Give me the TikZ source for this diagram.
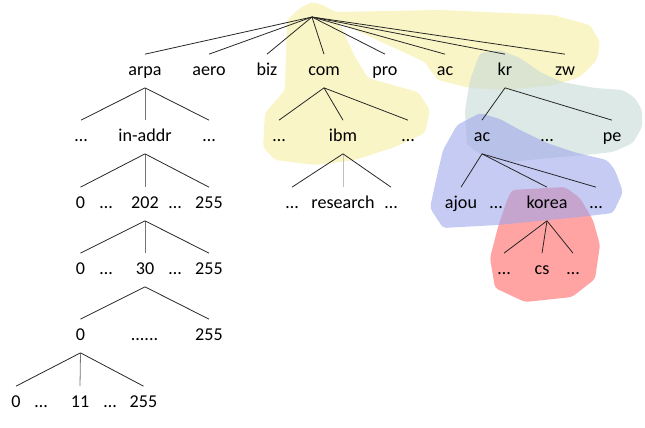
\documentclass[tikz,border=0pt]{standalone}
\usepackage{fontspec}
\setmainfont{Carlito}
\definecolor{blobY}{RGB}{250,245,198}
\definecolor{blobG}{RGB}{198,218,215}
\definecolor{blobR}{RGB}{255,71,71}
\definecolor{blobB}{RGB}{160,168,235}
\begin{document}
\begin{tikzpicture}[x=0.02cm,y=-0.02cm,
  lbl/.style={inner xsep=1pt,inner ysep=0pt,minimum height=0.66cm,text height=7.5pt,text depth=2.5pt,font=\fontsize{10.3}{12}\selectfont},
  edge/.style={line width=0.45pt,black!85},
  vedge/.style={line width=0.45pt,black!55},
  lightedge/.style={line width=0.45pt,black!25},
  blob/.style={rounded corners=2pt}]
\useasboundingbox (0,0) rectangle (645,427);
% blobs
\fill[blob,blobY] (312,2) -- (323,5) -- (335,12) -- (440,10) -- (553,15) -- (590,25) -- (600,42) -- (597,60) -- (580,77) -- (555,85) -- (505,90) -- (470,88) -- (438,80) -- (430,70) -- (425,62) -- (338,22) -- (345,35) -- (355,57) -- (368,78) -- (418,92) -- (430,110) -- (425,133) -- (395,147) -- (355,160) -- (315,165) -- (275,160) -- (263,147) -- (265,113) -- (285,90) -- (287,20) -- (300,8) -- cycle;
\fill[blob,blobG,opacity=0.6] (480,53) -- (500,50) -- (520,58) -- (540,72) -- (562,82) -- (595,88) -- (623,90) -- (635,98) -- (642,110) -- (642,127) -- (633,143) -- (613,152) -- (585,155) -- (550,158) -- (510,162) -- (485,157) -- (467,145) -- (465,110) -- (470,80) -- cycle;
\fill[blob,blobR,opacity=0.5] (512,190) -- (565,187) -- (580,198) -- (593,220) -- (600,245) -- (595,279) -- (572,297) -- (525,302) -- (495,288) -- (490,258) -- (498,227) -- (507,200) -- cycle;
\fill[blob,blobB,opacity=0.6] (457,125) -- (480,113) -- (500,119) -- (520,130) -- (547,143) -- (577,153) -- (607,160) -- (615,170) -- (623,192) -- (613,213) -- (580,217) -- (497,225) -- (443,228) -- (430,208) -- (436,180) -- (443,150) -- cycle;
% level 1
\coordinate (root) at (312,17);
\node[lbl] (arpa) at (145,71) {arpa};
\node[lbl] (aero) at (209,71) {aero};
\node[lbl] (biz) at (267,71) {biz};
\node[lbl] (com) at (324,71) {com};
\node[lbl] (pro) at (385,71) {pro};
\node[lbl] (acA) at (445,71) {ac};
\node[lbl] (kr) at (505,71) {kr};
\node[lbl] (zw) at (565,71) {zw};
\foreach \n in {arpa,aero,biz,com,pro,acA,kr,zw} \draw[edge] (root) -- (\n.north);
% level 2
\node[lbl] (aL) at (81,137) {…};
\node[lbl] (inaddr) at (145,137) {in-addr};
\node[lbl] (aR) at (209,137) {…};
\node[lbl] (cL) at (279,137) {…};
\node[lbl] (ibm) at (343,137) {ibm};
\node[lbl] (cR) at (408,137) {…};
\node[lbl] (acB) at (482,137) {ac};
\node[lbl] (kM) at (547,137) {…};
\node[lbl] (pe) at (612,137) {pe};
\draw[edge] (arpa.south) -- (aL.north);
\draw[vedge] (arpa.south) -- (inaddr.north);
\draw[edge] (arpa.south) -- (aR.north);
\foreach \n in {cL,ibm,cR} \draw[edge] (com.south) -- (\n.north);
\foreach \n in {acB,pe} \draw[edge] (kr.south) -- (\n.north);
% level 3
\node[lbl] (iA) at (80.5,204) {0};
\node[lbl] (iB) at (106,204) {…};
\node[lbl] (iC) at (145,204) {202};
\node[lbl] (iD) at (175,204) {…};
\node[lbl] (iE) at (209,204) {255};
\node[lbl] (bL) at (292,204) {…};
\node[lbl] (research) at (343,204) {research};
\node[lbl] (bR) at (391,204) {…};
\node[lbl] (ajou) at (461,204) {ajou};
\node[lbl] (jM) at (496,204) {…};
\node[lbl] (korea) at (547,204) {korea};
\node[lbl] (jR) at (596,204) {…};
\draw[edge] (inaddr.south) -- (iA.north);
\draw[vedge] (inaddr.south) -- (iC.north);
\draw[edge] (inaddr.south) -- (iE.north);
\draw[edge] (ibm.south) -- (bL.north);
\draw[lightedge] (ibm.south) -- (research.north);
\draw[edge] (ibm.south) -- (bR.north);
\foreach \n in {ajou,korea,jR} \draw[edge] (acB.south) -- (\n.north);
% level 4
\node[lbl] (tA) at (80.5,270) {0};
\node[lbl] (tB) at (106,270) {…};
\node[lbl] (tC) at (145,270) {30};
\node[lbl] (tD) at (175,270) {…};
\node[lbl] (tE) at (209,270) {255};
\node[lbl] (kL) at (504,270) {…};
\node[lbl] (cs) at (542,270) {cs};
\node[lbl] (kR) at (573,270) {…};
\draw[edge] (iC.south) -- (tA.north);
\draw[vedge] (iC.south) -- (tC.north);
\draw[edge] (iC.south) -- (tE.north);
\foreach \n in {kL,cs,kR} \draw[edge] (korea.south) -- (\n.north);
% level 5
\node[lbl] (fA) at (80.5,336) {0};
\node[lbl] (fB) at (144.5,336) {......};
\node[lbl] (fC) at (209,336) {255};
\foreach \n in {fA,fC} \draw[edge] (tC.south) -- (\n.north);
% level 6
\node[lbl] (sA) at (16,403) {0};
\node[lbl] (sB) at (41,403) {…};
\node[lbl] (sC) at (80,403) {11};
\node[lbl] (sD) at (110,403) {…};
\node[lbl] (sE) at (143.5,403) {255};
\draw[edge] (fA.south) -- (sA.north);
\draw[vedge] (fA.south) -- (sC.north);
\draw[edge] (fA.south) -- (sE.north);
\end{tikzpicture}
\end{document}
